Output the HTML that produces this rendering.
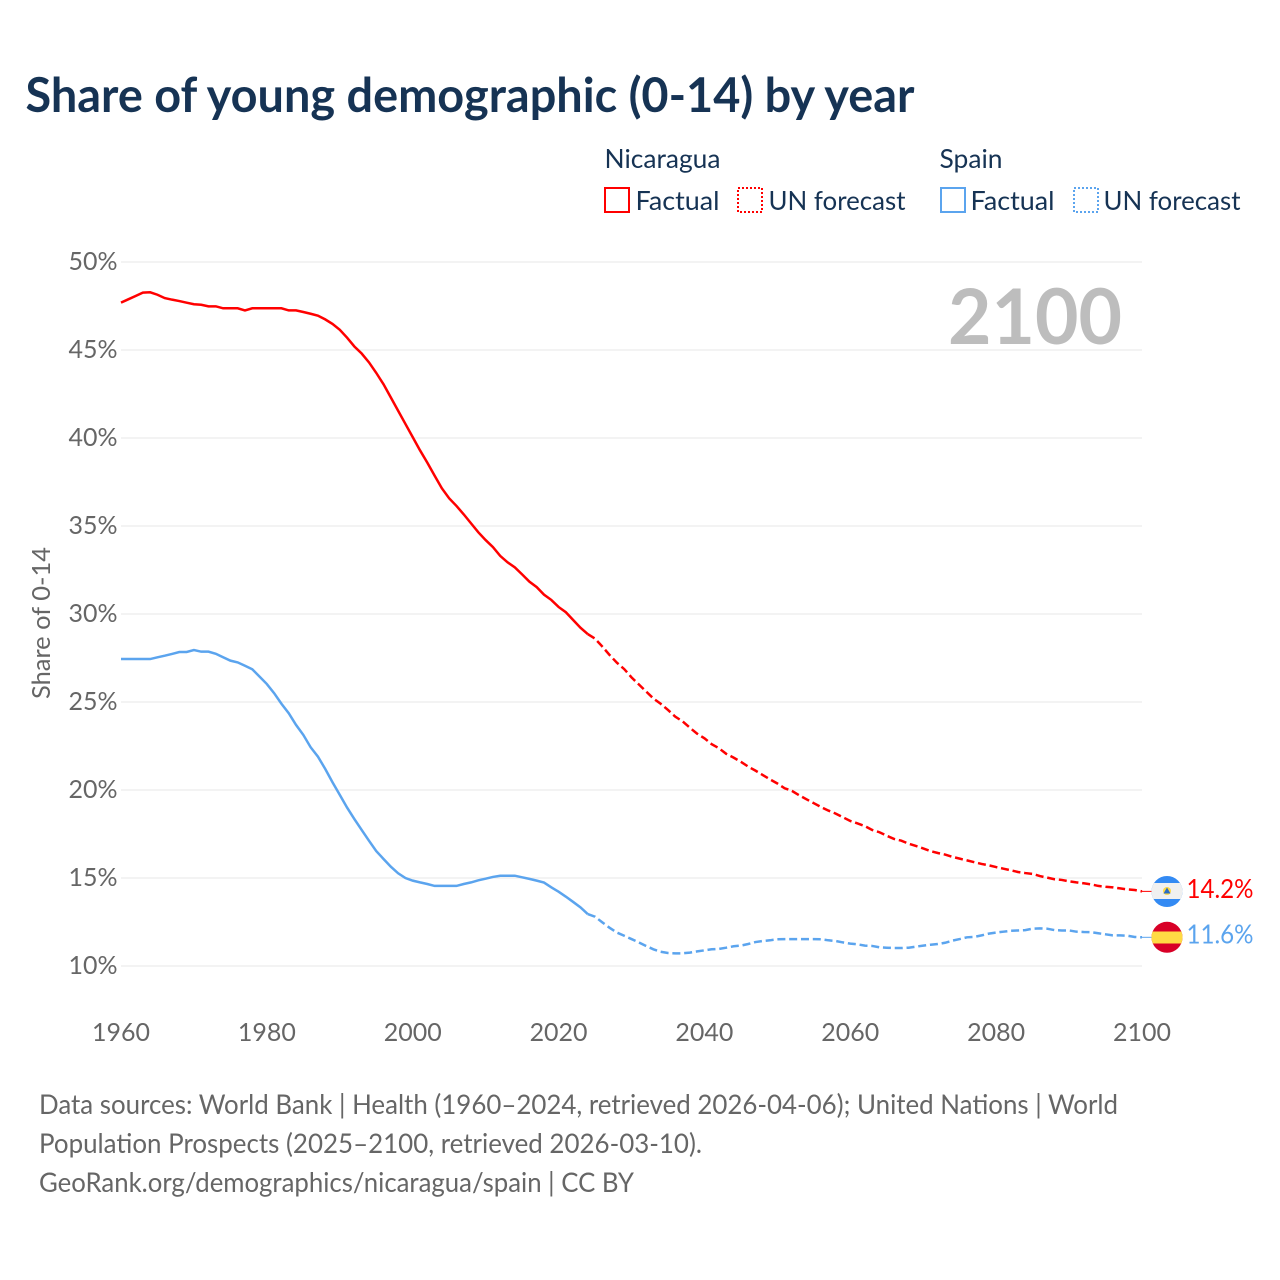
<!DOCTYPE html>
<html lang="en">
<head>
<meta charset="utf-8">
<title>Share of young demographic (0-14) by year</title>
<style>
html,body{margin:0;padding:0;background:#fff;}
svg{display:block;font-family:"Lato","Carlito","Liberation Sans",sans-serif;}
</style>
</head>
<body>
<svg id="chart" xmlns="http://www.w3.org/2000/svg" width="1280" height="1280" viewBox="0 0 1280 1280">
  <rect x="0" y="0" width="1280" height="1280" fill="#ffffff"/>
  <text x="25.5" y="112" font-size="47.5" font-weight="700" fill="#163354" textLength="889" lengthAdjust="spacingAndGlyphs">Share of young demographic (0-14) by year</text>

  <g>
    <text x="604.5" y="168" font-size="26" fill="#163354" textLength="116" lengthAdjust="spacingAndGlyphs">Nicaragua</text>
    <rect x="605" y="188" width="24" height="24" fill="none" stroke="#ff0000" stroke-width="2"/>
    <text x="635.5" y="210" font-size="26" fill="#163354" textLength="84" lengthAdjust="spacingAndGlyphs">Factual</text>
    <rect x="738" y="188" width="24" height="24" fill="none" stroke="#ff0000" stroke-width="2" stroke-dasharray="2,2"/>
    <text x="768.5" y="210" font-size="26" fill="#163354" textLength="137" lengthAdjust="spacingAndGlyphs">UN forecast</text>
    <text x="939.5" y="168" font-size="26" fill="#163354" textLength="63" lengthAdjust="spacingAndGlyphs">Spain</text>
    <rect x="941" y="188" width="24" height="24" fill="none" stroke="#5ba4ee" stroke-width="2"/>
    <text x="970.5" y="210" font-size="26" fill="#163354" textLength="84" lengthAdjust="spacingAndGlyphs">Factual</text>
    <rect x="1074" y="188" width="24" height="24" fill="none" stroke="#5ba4ee" stroke-width="2" stroke-dasharray="2,2"/>
    <text x="1103.5" y="210" font-size="26" fill="#163354" textLength="137" lengthAdjust="spacingAndGlyphs">UN forecast</text>
  </g>

  <g id="grid"></g>
  <g id="yticks"></g>
  <g id="xticks"></g>
  <text transform="translate(50,699) rotate(-90)" x="0" y="0" font-size="25" fill="#666666" textLength="152" lengthAdjust="spacingAndGlyphs">Share of 0-14</text>
  <text x="948" y="344" font-size="77" font-weight="700" fill="#bdbdbd" textLength="174" lengthAdjust="spacingAndGlyphs">2100</text>
  <g id="series"></g>

  <g>
    <clipPath id="clip-nic"><circle cx="1167" cy="891.5" r="15.5"/></clipPath>
    <g clip-path="url(#clip-nic)">
      <rect x="1151" y="876" width="32" height="31" fill="#338af3"/>
      <rect x="1151" y="883" width="32" height="16" fill="#f0f0f0"/>
      <circle cx="1167" cy="891" r="4" fill="#ffda44"/>
      <polygon points="1167,887.5 1170.5,893.5 1163.5,893.5" fill="#2a6cc4"/>
    </g>
  </g>
  <g>
    <clipPath id="clip-esp"><circle cx="1167" cy="937.3" r="15.5"/></clipPath>
    <g clip-path="url(#clip-esp)">
      <rect x="1151" y="921" width="32" height="33" fill="#d80027"/>
      <rect x="1151" y="931.5" width="32" height="12" fill="#ffda44"/>
    </g>
  </g>
  <text id="label-nic" x="1186.5" y="898" font-size="26" fill="#ff0000" textLength="67" lengthAdjust="spacingAndGlyphs"></text>
  <text id="label-esp" x="1186.5" y="943.5" font-size="26" fill="#5ba4ee" textLength="67" lengthAdjust="spacingAndGlyphs"></text>

  <g>
    <text x="39" y="1114" font-size="27" fill="#666666" textLength="1079" lengthAdjust="spacingAndGlyphs">Data sources: World Bank | Health (1960–2024, retrieved 2026-04-06); United Nations | World</text>
    <text x="39" y="1153" font-size="27" fill="#666666" textLength="663" lengthAdjust="spacingAndGlyphs">Population Prospects (2025–2100, retrieved 2026-03-10).</text>
    <text x="39" y="1192" font-size="27" fill="#666666" textLength="595" lengthAdjust="spacingAndGlyphs">GeoRank.org/demographics/nicaragua/spain | CC BY</text>
  </g>
</svg>
<script>
const yTickValues = [10, 15, 20, 25, 30, 35, 40, 45, 50];
const xTickValues = [1960, 1980, 2000, 2020, 2040, 2060, 2080, 2100];
const firstYear = 1960;
const lastFactualYear = 2024;

const nicaraguaValues = [
  47.69,47.88,48.07,48.26,48.28,48.14,47.95,47.86,47.78,47.69,
  47.60,47.57,47.48,47.48,47.37,47.37,47.37,47.25,47.37,47.37,
  47.37,47.37,47.37,47.25,47.25,47.16,47.06,46.95,46.74,46.48,
  46.15,45.70,45.20,44.80,44.30,43.70,43.05,42.30,41.55,40.80,
  40.05,39.30,38.60,37.86,37.14,36.57,36.14,35.66,35.15,34.64,
  34.20,33.80,33.30,32.94,32.65,32.25,31.84,31.53,31.10,30.80,
  30.40,30.10,29.66,29.22,28.86,28.60,28.15,27.67,27.23,26.87,
  26.40,26.00,25.60,25.20,24.90,24.55,24.17,23.90,23.54,23.20,
  22.94,22.60,22.37,22.05,21.84,21.60,21.33,21.10,20.85,20.60,
  20.37,20.10,19.95,19.70,19.47,19.25,19.03,18.83,18.66,18.45,
  18.24,18.10,17.95,17.73,17.60,17.40,17.22,17.12,16.95,16.82,
  16.68,16.53,16.42,16.33,16.20,16.10,16.00,15.90,15.80,15.72,
  15.62,15.53,15.44,15.34,15.28,15.23,15.11,15.02,14.93,14.89,
  14.81,14.75,14.70,14.64,14.55,14.50,14.47,14.41,14.35,14.32,
  14.24
];

const spainValues = [
  27.44,27.44,27.44,27.44,27.44,27.54,27.63,27.73,27.84,27.84,
  27.95,27.86,27.86,27.74,27.54,27.35,27.25,27.06,26.86,26.44,
  26.02,25.50,24.90,24.36,23.70,23.13,22.43,21.90,21.20,20.44,
  19.72,19.00,18.35,17.73,17.12,16.53,16.08,15.64,15.27,15.00,
  14.85,14.75,14.66,14.55,14.55,14.55,14.55,14.66,14.75,14.87,
  14.96,15.06,15.13,15.13,15.13,15.04,14.95,14.85,14.74,14.47,
  14.22,13.94,13.64,13.33,12.95,12.80,12.48,12.17,11.90,11.72,
  11.53,11.34,11.14,10.95,10.81,10.74,10.72,10.72,10.76,10.83,
  10.89,10.95,10.97,11.04,11.12,11.16,11.25,11.36,11.42,11.46,
  11.52,11.53,11.53,11.53,11.53,11.53,11.52,11.46,11.42,11.34,
  11.27,11.23,11.16,11.14,11.06,11.04,11.02,11.02,11.04,11.10,
  11.16,11.21,11.25,11.32,11.44,11.53,11.63,11.65,11.74,11.84,
  11.90,11.95,12.00,12.02,12.04,12.12,12.14,12.12,12.04,12.02,
  12.02,11.95,11.93,11.92,11.86,11.80,11.74,11.74,11.72,11.65,
  11.63
];

const SVG_NS = 'http://www.w3.org/2000/svg';
function xScale(year) { return 121 + (year - 1960) * (1142 - 121) / 140; }
function yScale(value) { return 966 - (value - 10) * (966 - 262) / 40; }

function linePath(values, startIndex, endIndex) {
  let d = '';
  for (let i = startIndex; i <= endIndex; i++) {
    d += (i === startIndex ? 'M' : 'L') + xScale(firstYear + i).toFixed(2) + ' ' + yScale(values[i]).toFixed(2);
  }
  return d;
}

const gridGroup = document.getElementById('grid');
const yTickGroup = document.getElementById('yticks');
const xTickGroup = document.getElementById('xticks');
const seriesGroup = document.getElementById('series');

yTickValues.forEach(function (v) {
  const line = document.createElementNS(SVG_NS, 'line');
  
  
  line.setAttribute('x1', 121);
  line.setAttribute('x2', 1142);
  line.setAttribute('y1', yScale(v));
  line.setAttribute('y2', yScale(v));
  line.setAttribute('stroke', '#ececec');
  line.setAttribute('stroke-width', '1.3');
  gridGroup.appendChild(line);

  const label = document.createElementNS(SVG_NS, 'text');
  
  
  label.setAttribute('x', 117.5);
  label.setAttribute('y', yScale(v) + 8);
  label.setAttribute('text-anchor', 'end');
  label.setAttribute('font-size', '25');
  label.setAttribute('fill', '#666666');
  label.setAttribute('textLength', '49');
  label.setAttribute('lengthAdjust', 'spacingAndGlyphs');
  label.textContent = v + '%';
  yTickGroup.appendChild(label);
});

xTickValues.forEach(function (year) {
  const label = document.createElementNS(SVG_NS, 'text');
  
  
  label.setAttribute('x', xScale(year));
  label.setAttribute('y', 1041);
  label.setAttribute('text-anchor', 'middle');
  label.setAttribute('font-size', '25');
  label.setAttribute('fill', '#666666');
  label.setAttribute('textLength', '58');
  label.setAttribute('lengthAdjust', 'spacingAndGlyphs');
  label.textContent = year;
  xTickGroup.appendChild(label);
});

const splitIndex = lastFactualYear - firstYear;

const nicFactual = document.createElementNS(SVG_NS, 'path');


nicFactual.setAttribute('d', linePath(nicaraguaValues, 0, splitIndex));
nicFactual.setAttribute('fill', 'none');
nicFactual.setAttribute('stroke', '#ff0000');
nicFactual.setAttribute('stroke-width', '2.5');
seriesGroup.appendChild(nicFactual);

const nicForecast = document.createElementNS(SVG_NS, 'path');


nicForecast.setAttribute('d', linePath(nicaraguaValues, splitIndex, nicaraguaValues.length - 1));
nicForecast.setAttribute('fill', 'none');
nicForecast.setAttribute('stroke', '#ff0000');
nicForecast.setAttribute('stroke-width', '2.5');
nicForecast.setAttribute('stroke-dasharray', '8,3.8');
seriesGroup.appendChild(nicForecast);

const espFactual = document.createElementNS(SVG_NS, 'path');


espFactual.setAttribute('d', linePath(spainValues, 0, splitIndex));
espFactual.setAttribute('fill', 'none');
espFactual.setAttribute('stroke', '#5ba4ee');
espFactual.setAttribute('stroke-width', '2.5');
seriesGroup.appendChild(espFactual);

const espForecast = document.createElementNS(SVG_NS, 'path');


espForecast.setAttribute('d', linePath(spainValues, splitIndex, spainValues.length - 1));
espForecast.setAttribute('fill', 'none');
espForecast.setAttribute('stroke', '#5ba4ee');
espForecast.setAttribute('stroke-width', '2.5');
espForecast.setAttribute('stroke-dasharray', '8,3.8');
seriesGroup.appendChild(espForecast);

const nicLast = nicaraguaValues[nicaraguaValues.length - 1];
const espLast = spainValues[spainValues.length - 1];

const nicConnector = document.createElementNS(SVG_NS, 'line');


nicConnector.setAttribute('x1', xScale(2100));
nicConnector.setAttribute('x2', 1152);
nicConnector.setAttribute('y1', yScale(nicLast));
nicConnector.setAttribute('y2', yScale(nicLast));
nicConnector.setAttribute('stroke', '#ff0000');
nicConnector.setAttribute('stroke-width', '1');
seriesGroup.appendChild(nicConnector);

const espConnector = document.createElementNS(SVG_NS, 'line');


espConnector.setAttribute('x1', xScale(2100));
espConnector.setAttribute('x2', 1152);
espConnector.setAttribute('y1', yScale(espLast));
espConnector.setAttribute('y2', yScale(espLast));
espConnector.setAttribute('stroke', '#5ba4ee');
espConnector.setAttribute('stroke-width', '1');
seriesGroup.appendChild(espConnector);

document.getElementById('label-nic').textContent = nicLast.toFixed(1) + '%';
document.getElementById('label-esp').textContent = espLast.toFixed(1) + '%';
</script>
</body>
</html>
